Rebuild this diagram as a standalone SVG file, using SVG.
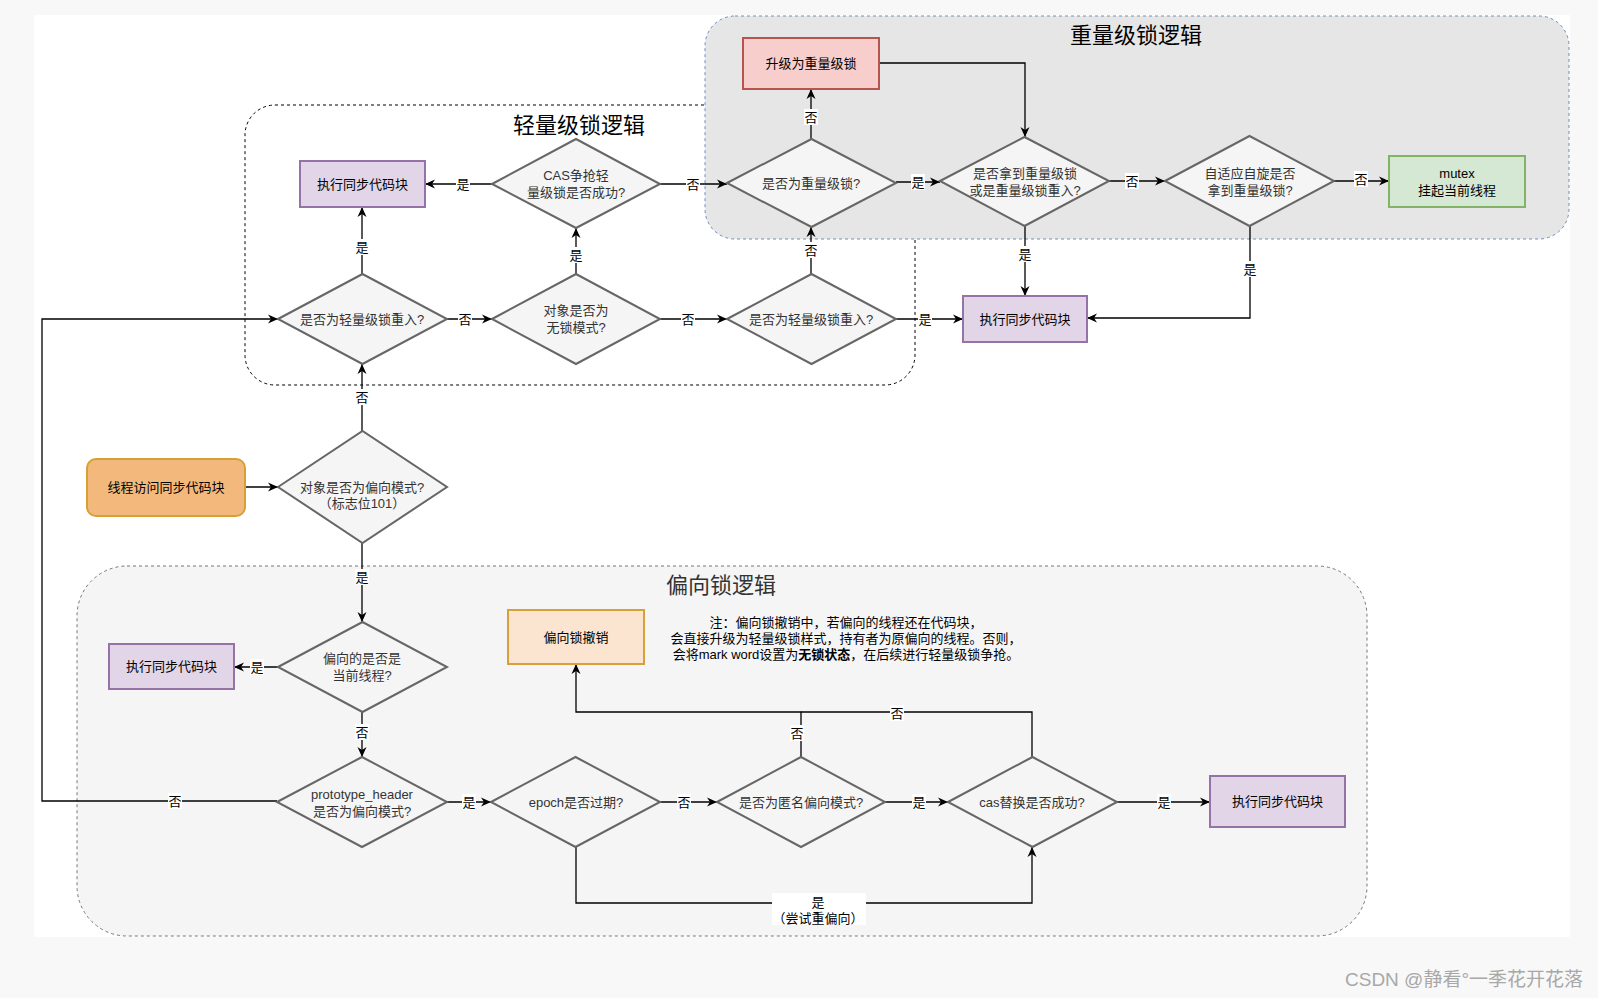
<svg xmlns="http://www.w3.org/2000/svg" width="1598" height="998" viewBox="0 0 1598 998">
<defs>
<marker id="arr" markerUnits="userSpaceOnUse" markerWidth="11" markerHeight="10" refX="10" refY="5" orient="auto">
<path d="M0,0.5 L10,5 L0,9.5 L3,5 Z" fill="#000"/>
</marker>
<style>
.t{font-family:"Liberation Sans","Noto Sans CJK SC",sans-serif;font-size:13px;text-anchor:middle;fill:#000}
.dt{font-family:"Liberation Sans","Noto Sans CJK SC",sans-serif;font-size:13px;text-anchor:middle;fill:#333}
.title{font-family:"Liberation Sans","Noto Sans CJK SC",sans-serif;font-size:22px;text-anchor:middle}
.dia{fill:#f5f5f5;stroke:#666;stroke-width:2}
.exec{fill:#e1d5e7;stroke:#9673a6;stroke-width:2}
.c{fill:none;stroke:#000;stroke-width:1.3}
.ca{fill:none;stroke:#000;stroke-width:1.3;marker-end:url(#arr)}
.lbg{fill:#fff}
</style>
</defs>
<rect x="0" y="0" width="1598" height="998" fill="#f8f8f8"/>
<rect x="34" y="15" width="1536" height="922" fill="#fff"/>

<g id="container-biased">
<rect x="77" y="566" width="1290" height="370" rx="50" ry="50" fill="#f5f5f5" stroke="#777" stroke-width="1" stroke-dasharray="3 3"/>
<text class="title" x="721" y="593" fill="#333">偏向锁逻辑</text>
</g>
<g id="container-light">
<rect x="245" y="105" width="670" height="280" rx="30" ry="30" fill="none" stroke="#000" stroke-width="1" stroke-dasharray="3 3"/>
<text class="title" x="579" y="133" fill="#000">轻量级锁逻辑</text>
</g>
<g id="container-heavy">
<rect x="705" y="16" width="864" height="223" rx="30" ry="30" fill="#e6e6e6" stroke="#6c8ebf" stroke-width="1" stroke-dasharray="3 3"/>
<text class="title" x="1136" y="43" fill="#000">重量级锁逻辑</text>
</g>

<g id="connectors">
<path class="ca" d="M492,184 H425"/>
<path class="ca" d="M660,184 H727"/>
<path class="ca" d="M362,274 V207"/>
<path class="ca" d="M576,274 V228"/>
<path class="ca" d="M447,319 H492"/>
<path class="ca" d="M660,319 H727"/>
<path class="ca" d="M811,139 V89"/>
<path class="ca" d="M879,63 H1025 V137"/>
<path class="ca" d="M896,182 H940"/>
<path class="ca" d="M1109,181 H1165"/>
<path class="ca" d="M1334,181 H1389"/>
<path class="ca" d="M811,274 V227"/>
<path class="ca" d="M896,319 H963"/>
<path class="ca" d="M1025,226 V296"/>
<path class="ca" d="M1250,226 V318 H1087"/>
<path class="ca" d="M245,487 H278"/>
<path class="ca" d="M362,431 V364"/>
<path class="ca" d="M362,543 V622"/>
<path class="ca" d="M278,667 H234"/>
<path class="ca" d="M362,712 V757"/>
<path class="ca" d="M277,801 H42 V319 H278"/>
<path class="ca" d="M447,802 H491"/>
<path class="ca" d="M660,802 H717"/>
<path class="ca" d="M885,802 H948"/>
<path class="ca" d="M1117,802 H1210"/>
<path class="ca" d="M801,757 V712 H576 V664"/>
<path class="c" d="M1032,757 V712 H801"/>
<path class="ca" d="M576,847 V903 H1032 V847"/>

<g id="edge-labels">
<rect class="lbg" x="456" y="176" width="14" height="16"/><text class="t" x="463" y="188.5">是</text>
<rect class="lbg" x="686" y="176" width="14" height="16"/><text class="t" x="693" y="188.5">否</text>
<rect class="lbg" x="355" y="239" width="14" height="16"/><text class="t" x="362" y="251.5">是</text>
<rect class="lbg" x="569" y="247" width="14" height="16"/><text class="t" x="576" y="259.5">是</text>
<rect class="lbg" x="458" y="311" width="14" height="16"/><text class="t" x="465" y="323.5">否</text>
<rect class="lbg" x="681" y="311" width="14" height="16"/><text class="t" x="688" y="323.5">否</text>
<rect class="lbg" x="804" y="109" width="14" height="16"/><text class="t" x="811" y="121.5">否</text>
<rect class="lbg" x="911" y="174" width="14" height="16"/><text class="t" x="918" y="186.5">是</text>
<rect class="lbg" x="1125" y="173" width="14" height="16"/><text class="t" x="1132" y="185.5">否</text>
<rect class="lbg" x="1354" y="171" width="14" height="16"/><text class="t" x="1361" y="183.5">否</text>
<rect class="lbg" x="804" y="242" width="14" height="16"/><text class="t" x="811" y="254.5">否</text>
<rect class="lbg" x="918" y="311" width="14" height="16"/><text class="t" x="925" y="323.5">是</text>
<rect class="lbg" x="1018" y="246" width="14" height="16"/><text class="t" x="1025" y="258.5">是</text>
<rect class="lbg" x="1243" y="261" width="14" height="16"/><text class="t" x="1250" y="273.5">是</text>
<rect class="lbg" x="355" y="389" width="14" height="16"/><text class="t" x="362" y="401.5">否</text>
<rect class="lbg" x="355" y="569" width="14" height="16"/><text class="t" x="362" y="581.5">是</text>
<rect class="lbg" x="250" y="659" width="14" height="16"/><text class="t" x="257" y="671.5">是</text>
<rect class="lbg" x="355" y="724" width="14" height="16"/><text class="t" x="362" y="736.5">否</text>
<rect class="lbg" x="168" y="793" width="14" height="16"/><text class="t" x="175" y="805.5">否</text>
<rect class="lbg" x="462" y="794" width="14" height="16"/><text class="t" x="469" y="806.5">是</text>
<rect class="lbg" x="677" y="794" width="14" height="16"/><text class="t" x="684" y="806.5">否</text>
<rect class="lbg" x="912" y="794" width="14" height="16"/><text class="t" x="919" y="806.5">是</text>
<rect class="lbg" x="1157" y="794" width="14" height="16"/><text class="t" x="1164" y="806.5">是</text>
<rect class="lbg" x="790" y="725" width="14" height="16"/><text class="t" x="797" y="737.5">否</text>
<rect class="lbg" x="890" y="705" width="14" height="16"/><text class="t" x="897" y="717.5">否</text>
<rect class="lbg" x="772" y="893" width="94" height="32"/><text class="t" x="818" y="906.5">是</text><text class="t" x="818" y="922.5">（尝试重偏向）</text>
</g>
</g>

<g id="start">
<rect x="87" y="459" width="158" height="57" rx="9" ry="9" fill="#f3b87b" stroke="#d6a133" stroke-width="2"/>
<text class="t" x="166" y="492">线程访问同步代码块</text>
</g>
<g id="is-biased-mode">
<polygon class="dia" points="278,487 362.5,431 447,487 362.5,543"/>
<text class="dt" x="362" y="491.5">对象是否为偏向模式?</text>
<text class="dt" x="362" y="507.5">（标志位101）</text>
</g>
<g id="light-reentry-1">
<polygon class="dia" points="278,319 362.5,274 447,319 362.5,364"/>
<text class="dt" x="362" y="323.5">是否为轻量级锁重入?</text>
</g>
<g id="exec-1">
<rect class="exec" x="300" y="161" width="125" height="46"/>
<text class="t" x="362.5" y="188.5">执行同步代码块</text>
</g>
<g id="cas-light">
<polygon class="dia" points="492,184 576,139 660,184 576,228"/>
<text class="dt" x="576" y="179.5">CAS争抢轻</text>
<text class="dt" x="576" y="196.5">量级锁是否成功?</text>
</g>
<g id="is-lock-free">
<polygon class="dia" points="492,319 576,274 660,319 576,364"/>
<text class="dt" x="576" y="314.5">对象是否为</text>
<text class="dt" x="576" y="331.5">无锁模式?</text>
</g>
<g id="light-reentry-2">
<polygon class="dia" points="727,319 811.5,274 896,319 811.5,364"/>
<text class="dt" x="811" y="323.5">是否为轻量级锁重入?</text>
</g>
<g id="is-heavy">
<polygon class="dia" points="727,183 811.5,139 896,183 811.5,227"/>
<text class="dt" x="811" y="187.5">是否为重量级锁?</text>
</g>
<g id="upgrade-heavy">
<rect x="743" y="38" width="136" height="51" fill="#f8cecc" stroke="#b85450" stroke-width="2"/>
<text class="t" x="811" y="68">升级为重量级锁</text>
</g>
<g id="got-heavy">
<polygon class="dia" points="940,181 1024.5,137 1109,181 1024.5,226"/>
<text class="dt" x="1025" y="177.5">是否拿到重量级锁</text>
<text class="dt" x="1025" y="194.5">或是重量级锁重入?</text>
</g>
<g id="adaptive-spin">
<polygon class="dia" points="1165,181 1249.5,136 1334,181 1249.5,226"/>
<text class="dt" x="1250" y="177.5">自适应自旋是否</text>
<text class="dt" x="1250" y="194.5">拿到重量级锁?</text>
</g>
<g id="mutex">
<rect x="1389" y="156" width="136" height="51" fill="#d5e8d4" stroke="#82b366" stroke-width="2"/>
<text class="t" x="1457" y="177.5">mutex</text>
<text class="t" x="1457" y="194.5">挂起当前线程</text>
</g>
<g id="exec-2">
<rect class="exec" x="963" y="296" width="124" height="46"/>
<text class="t" x="1025" y="323.5">执行同步代码块</text>
</g>
<g id="biased-current">
<polygon class="dia" points="278,667 362.5,622 447,667 362.5,712"/>
<text class="dt" x="362" y="662.5">偏向的是否是</text>
<text class="dt" x="362" y="679.5">当前线程?</text>
</g>
<g id="exec-3">
<rect class="exec" x="109" y="644" width="125" height="45"/>
<text class="t" x="171.5" y="671">执行同步代码块</text>
</g>
<g id="prototype">
<polygon class="dia" points="277,802 362,757 447,802 362,847"/>
<text class="dt" x="362" y="798.5">prototype_header</text>
<text class="dt" x="362" y="815.5">是否为偏向模式?</text>
</g>
<g id="epoch">
<polygon class="dia" points="491,802 575.5,757 660,802 575.5,847"/>
<text class="dt" x="576" y="806.5">epoch是否过期?</text>
</g>
<g id="anonymous">
<polygon class="dia" points="717,802 801,757 885,802 801,847"/>
<text class="dt" x="801" y="806.5">是否为匿名偏向模式?</text>
</g>
<g id="cas-replace">
<polygon class="dia" points="948,802 1032.5,757 1117,802 1032.5,847"/>
<text class="dt" x="1032" y="806.5">cas替换是否成功?</text>
</g>
<g id="exec-4">
<rect class="exec" x="1210" y="776" width="135" height="51"/>
<text class="t" x="1277.5" y="806">执行同步代码块</text>
</g>
<g id="revoke">
<rect x="508" y="610" width="136" height="54" fill="#fbe5d0" stroke="#d8a03a" stroke-width="2"/>
<text class="t" x="576" y="641.5">偏向锁撤销</text>
</g>
<g id="note">
<text class="t" x="846" y="626.5">注：偏向锁撤销中，若偏向的线程还在代码块，</text>
<text class="t" x="846" y="642.5">会直接升级为轻量级锁样式，持有者为原偏向的线程。否则，</text>
<text class="t" x="846" y="658.5">会将mark word设置为<tspan font-weight="bold">无锁状态</tspan>，在后续进行轻量级锁争抢。</text>
</g>
<text x="1345" y="986" font-family="Liberation Sans,Noto Sans CJK SC,sans-serif" font-size="19" fill="#a8a8a8">CSDN @静看°一季花开花落</text>
</svg>
